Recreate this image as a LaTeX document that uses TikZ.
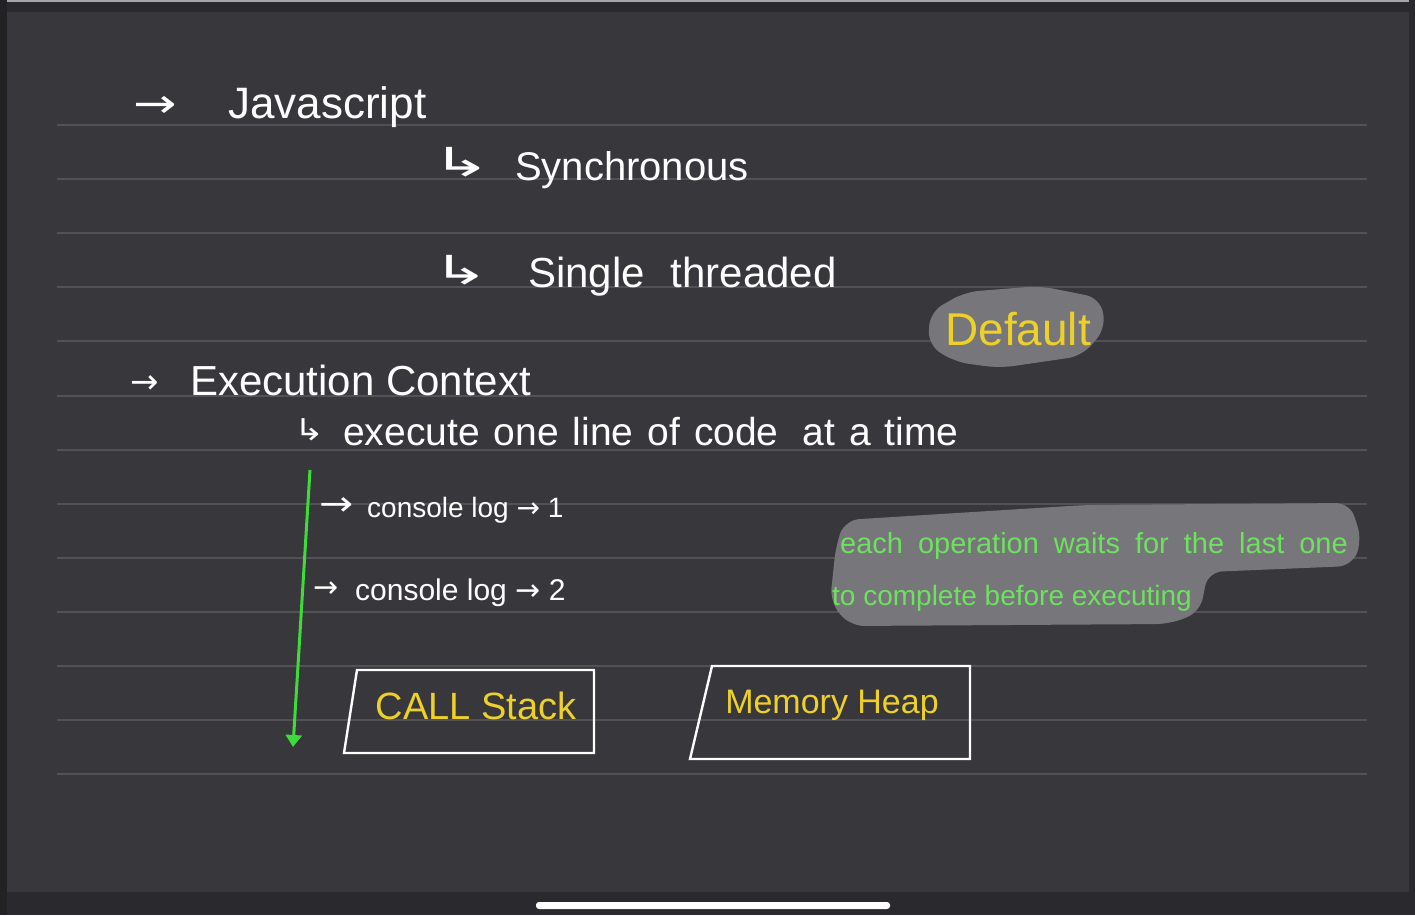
\documentclass[tikz,border=0pt]{standalone}
\usepackage{fontspec}
\setmainfont{Liberation Sans}
\newfontfamily\sym{DejaVu Sans}
\usetikzlibrary{arrows.meta}
\definecolor{bg}{HTML}{38373B}
\definecolor{rule}{HTML}{525155}
\definecolor{band}{HTML}{2A292D}
\definecolor{hl}{HTML}{77767A}
\definecolor{ylw}{HTML}{EDD02A}
\definecolor{grn}{HTML}{6CE25E}
\definecolor{gline}{HTML}{3EDB3A}
\newcommand{\fs}[1]{\fontsize{#1}{#1}\selectfont}
\newcommand{\wide}[2]{\scalebox{#1}[1]{#2}}
\tikzset{
  hw/.style={text=white, inner sep=0pt, anchor=base west},
  sy/.style={text=white, inner sep=0pt, anchor=center},
  ruleline/.style={draw=rule, line width=1.6pt},
  box/.style={draw=white, line width=2.4pt},
  blob/.style={fill=hl, rounded corners=14pt},
}
\begin{document}
\begin{tikzpicture}[x=1pt,y=-1pt]
\useasboundingbox (0,0) rectangle (1415,915);
% background
\fill[bg] (0,0) rectangle (1415,915);
\fill[band] (0,2) rectangle (1415,12);
\fill[gray!70] (0,0) rectangle (1415,2);
\fill[band] (0,892) rectangle (1415,915);
\fill[band!80!black] (0,0) rectangle (7,915);
\fill[band] (1409,0) rectangle (1415,915);
\fill[white, rounded corners=3pt] (536,902) rectangle (890,909);
% ruled lines
\foreach \yy in {125,179,233,287,341,396,450,504,558,612,666,720,774}
  \draw[ruleline] (57,\yy) -- (1367,\yy);
% highlight blobs
\path[blob] (930,312) -- (965,292) -- (1040,286) -- (1100,298) -- (1106,328) -- (1082,356) -- (1000,368) -- (955,362) -- (928,345) -- cycle;
\path[blob] (845,520) -- (1085,505) -- (1350,503) -- (1362,540) -- (1352,566) -- (1208,572) -- (1200,612) -- (1170,624) -- (850,626) -- (830,602) -- (836,545) -- cycle;
% heading texts
\node[sy, font=\sym\fs{40}] (a1) at (155,107) {\wide{1.3}{→}};
\node[hw, font=\fs{44}] (js) at (228,118) {Javascript};
\node[sy, font=\sym\fs{40}] (a2) at (462,162) {\wide{1.8}{↳}};
\node[hw, font=\fs{40}] (sync) at (515,180) {Synchronous};
\node[sy, font=\sym\fs{40}] (a3) at (461,270) {\wide{1.7}{↳}};
\node[hw, font=\fs{42}] (single) at (528,287) {Single\hspace{26pt}threaded};
\node[hw, font=\fs{46}, text=ylw] (def) at (945,345) {Default};
\node[sy, font=\sym\fs{34}] (a4) at (145,385) {→};
\node[hw, font=\fs{42}] (ec) at (190,395) {Execution Context};
\node[sy, font=\sym\fs{30}] (a5) at (310,430) {\wide{1.2}{↳}};
\node[hw, font=\fs{39}] (exec) at (343,445) {\spaceskip=14pt execute one line of code\hspace{10pt} at a time};
% green timeline
\draw[gline, line width=3pt, -{Triangle[width=16pt,length=12pt]}] (310,470) coordinate (gtop) -- (293,747) coordinate (gbot);
% console logs
\node[sy, font=\sym\fs{34}] (a6) at (337,507) {\wide{1.2}{→}};
\node[hw, font=\fs{28}] (c1) at (367,517) {console log {\sym→} 1};
\node[sy, font=\sym\fs{30}] (a7) at (326,590) {→};
\node[hw, font=\fs{30}] (c2) at (355,600) {console log {\sym→} 2};
% green note
\node[hw, font=\fs{29}, text=grn] (n1) at (840,553) {\spaceskip=15pt each operation waits for the last one};
\node[hw, font=\fs{28}, text=grn] (n2) at (832,605) {to complete before executing};
% boxes
\draw[box] (357,670) -- (594,670) -- (594,753) -- (344,753) -- cycle;
\node[sy, font=\fs{38}, text=ylw] (cs) at (476,706) {CALL Stack};
\draw[box] (712,666) -- (970,666) -- (970,759) -- (690,759) -- cycle;
\node[sy, font=\fs{34}, text=ylw] (mh) at (832,705) {Memory Heap};
\end{tikzpicture}
\end{document}
